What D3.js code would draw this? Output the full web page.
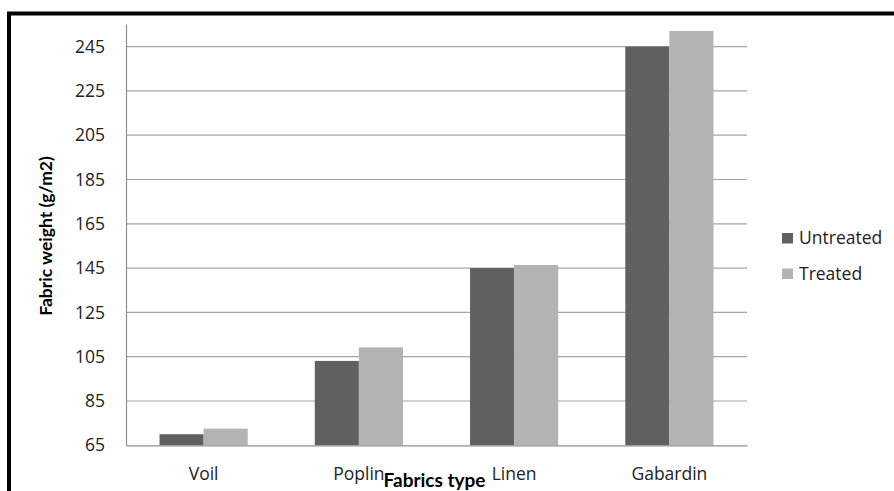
<!DOCTYPE html>
<html><head><meta charset="utf-8">
<script src="https://cdn.jsdelivr.net/npm/d3@7"></script>
<style>body{margin:0;background:#fff}svg{display:block}</style>
</head><body><svg id="c" width="894" height="491"></svg>
<script>
const categories = ["Voil", "Poplin", "Linen", "Gabardin"];
const seriesNames = ["Untreated", "Treated"];
const untreated = [70, 103.1, 145, 245];
const treated = [72.5, 109.2, 146.4, 252.1];
const yTicks = [65, 85, 105, 125, 145, 165, 185, 205, 225, 245];
const colors = ["#606060", "#b3b3b3"];

const svg = d3.select("#c");
const L = 126, R = 747, T = 24, B = 445.3;

// frame
svg.append("rect").attr("x", 9).attr("y", 13.5).attr("width", 900).attr("height", 500)
  .attr("fill", "none").attr("stroke", "#000").attr("stroke-width", 4);

const x = d3.scaleBand().domain(categories).range([L, R]).paddingInner(0.432).paddingOuter(0.216);
const xs = d3.scaleBand().domain(seriesNames).range([0, x.bandwidth()]);
const y = d3.scaleLinear().domain([65, 255.2]).range([B, T]);

// gridlines
svg.append("g").selectAll("line").data(yTicks.slice(1)).join("line")
  .attr("x1", L).attr("x2", R).attr("y1", d => y(d)).attr("y2", d => y(d))
  .attr("stroke", "#a6a6a6").attr("stroke-width", 1.2);

// bars
const data = categories.map((c, i) => ({c, vals: [untreated[i], treated[i]]}));
const g = svg.append("g").selectAll("g").data(data).join("g")
  .attr("transform", d => `translate(${x(d.c)},0)`);
g.selectAll("rect").data(d => d.vals.map((v, j) => ({s: seriesNames[j], v, j}))).join("rect")
  .attr("x", d => xs(d.s)).attr("width", xs.bandwidth())
  .attr("y", d => y(d.v)).attr("height", d => B - y(d.v))
  .attr("fill", d => colors[d.j]);

// axes
const yAxis = svg.append("g").attr("transform", `translate(${L},0)`)
  .call(d3.axisLeft(y).tickValues(yTicks).tickSize(0).tickPadding(21));
yAxis.select(".domain").attr("stroke", "#8f8f8f").attr("stroke-width", 1.2);
yAxis.selectAll("text").attr("font-family", "Open Sans").attr("font-size", 17.5).attr("fill", "#222");

const xAxis = svg.append("g").attr("transform", `translate(0,${B})`)
  .call(d3.axisBottom(x).tickSize(0).tickPadding(22));
xAxis.select(".domain").attr("stroke", "#8f8f8f").attr("stroke-width", 1.2);
xAxis.selectAll("text").attr("font-family", "Open Sans").attr("font-size", 17.5).attr("fill", "#222");

// axis titles
svg.append("text").attr("x", (L + R) / 2 - 2).attr("y", 487).attr("text-anchor", "middle")
  .attr("font-family", "Lato").attr("font-weight", "bold").attr("font-size", 19).attr("fill", "#000")
  .text("Fabrics type");
svg.append("text").attr("transform", `translate(52,236) rotate(-90)`).attr("text-anchor", "middle")
  .attr("font-family", "Lato").attr("font-weight", "bold").attr("font-size", 17.5).attr("fill", "#000")
  .text("Fabric weight (g/m2)");

// legend
const lg = svg.append("g").selectAll("g").data(seriesNames).join("g")
  .attr("transform", (d, i) => `translate(782,${233 + i * 35.5})`);
lg.append("rect").attr("width", 11).attr("height", 10.5).attr("fill", (d, i) => colors[i]);
lg.append("text").attr("x", 17).attr("y", 11).attr("font-family", "Open Sans").attr("font-size", 17.5)
  .attr("fill", "#222").text(d => d);
</script></body></html>
